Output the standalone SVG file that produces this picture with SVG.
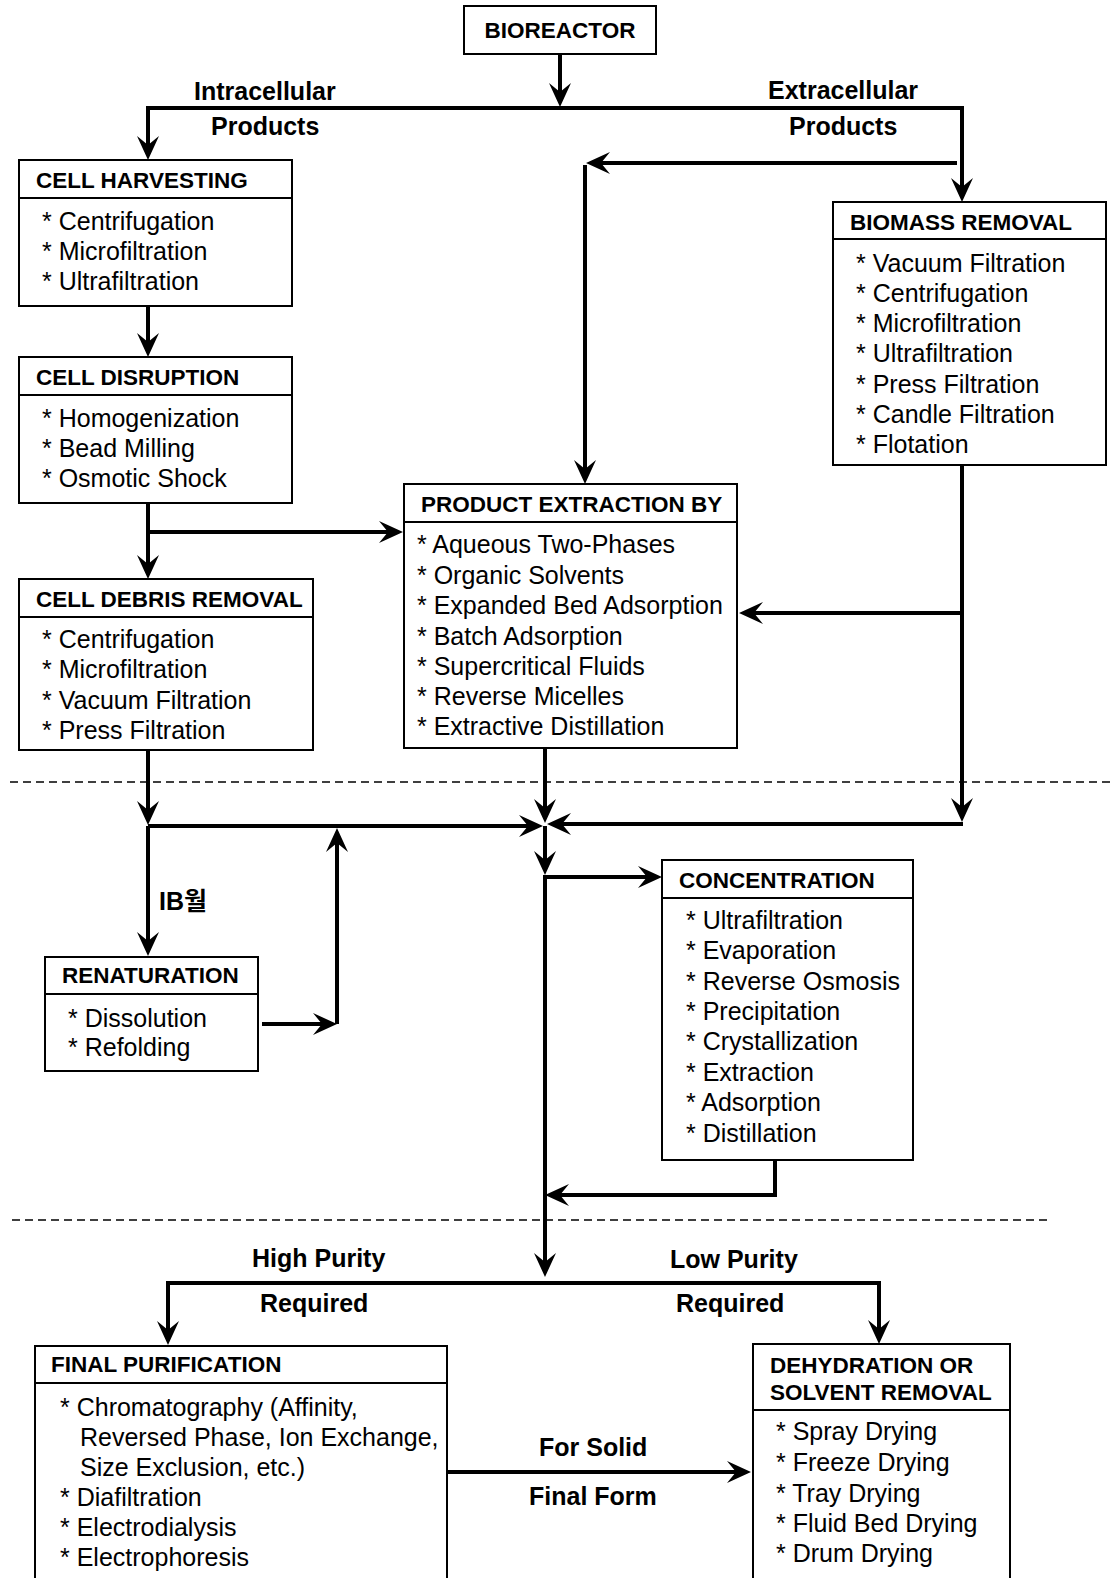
<svg xmlns="http://www.w3.org/2000/svg" width="1110" height="1578" viewBox="0 0 1110 1578">
<style>
.box{fill:#fff;stroke:#000;stroke-width:2}
.dv{stroke:#000;stroke-width:2}
.hd{font-family:"Liberation Sans",Arial,sans-serif;font-weight:bold;font-size:22.5px;fill:#000}
.tx{font-family:"Liberation Sans",Arial,sans-serif;font-size:25px;fill:#000}
.lb{font-family:"Liberation Sans","Noto Sans CJK KR",Arial,sans-serif;font-weight:bold;font-size:25px;fill:#000}
.cn path{fill:none;stroke:#000;stroke-width:4;stroke-linejoin:miter;marker-end:url(#ah)}
.cn path.nm{marker-end:none}
.dash{stroke:#000;stroke-width:1.6;stroke-dasharray:8 5;fill:none}
</style>
<defs>
<marker id="ah" markerUnits="userSpaceOnUse" markerWidth="26" markerHeight="24" viewBox="0 0 26 24" refX="14" refY="12" orient="auto">
<path d="M24,12 L0,1 L9,12 L0,23 Z" fill="#000"/>
</marker>
</defs>

<g id="separators">
<path class="dash" d="M10,782 H1110"/>
<path class="dash" d="M12,1220 H1047"/>
</g>

<g id="connectors" class="cn">
<path d="M560,54 V97"/>
<path d="M560,108 H148 V150"/>
<path d="M560,108 H962 V192"/>
<path d="M957,163 H596"/>
<path d="M585,165 V474"/>
<path d="M148,306 V347"/>
<path d="M148,503 V569"/>
<path d="M148,532 H393"/>
<path d="M962,465 V812"/>
<path d="M963,613 H749"/>
<path d="M963,824 H557"/>
<path d="M545,748 V813"/>
<path d="M148,750 V815"/>
<path d="M148,826 H533"/>
<path d="M148,826 V946"/>
<path d="M262,1024 H327"/>
<path d="M337,1024 V838"/>
<path d="M545,826 V865"/>
<path d="M545,877 H652"/>
<path d="M545,875 V1267"/>
<path d="M775,1160 V1195 H555"/>
<path d="M545,1283 H168 V1335"/>
<path d="M545,1283 H879 V1334"/>
<path d="M447,1472 H741"/>
</g>

<g id="labels">
<text class="lb" x="194" y="100">Intracellular</text>
<text class="lb" x="211" y="135">Products</text>
<text class="lb" x="768" y="99">Extracellular</text>
<text class="lb" x="789" y="135">Products</text>
<text class="lb" x="159" y="910">IB월</text>
<text class="lb" x="252" y="1267">High Purity</text>
<text class="lb" x="260" y="1312">Required</text>
<text class="lb" x="670" y="1268">Low Purity</text>
<text class="lb" x="676" y="1312">Required</text>
<text class="lb" x="539" y="1456">For Solid</text>
<text class="lb" x="529" y="1505">Final Form</text>
</g>

<g id="bioreactor">
<rect class="box" x="464" y="6" width="192" height="48"/>
<text class="hd" x="560" y="38" text-anchor="middle">BIOREACTOR</text>
</g>

<g id="cell-harvesting">
<rect class="box" x="19" y="160" width="273" height="146"/>
<line class="dv" x1="19" y1="198" x2="292" y2="198"/>
<text class="hd" x="36" y="188">CELL HARVESTING</text>
<text class="tx" x="42" y="230">* Centrifugation</text>
<text class="tx" x="42" y="260">* Microfiltration</text>
<text class="tx" x="42" y="290">* Ultrafiltration</text>
</g>

<g id="cell-disruption">
<rect class="box" x="19" y="357" width="273" height="146"/>
<line class="dv" x1="19" y1="395" x2="292" y2="395"/>
<text class="hd" x="36" y="385">CELL DISRUPTION</text>
<text class="tx" x="42" y="427">* Homogenization</text>
<text class="tx" x="42" y="457">* Bead Milling</text>
<text class="tx" x="42" y="487">* Osmotic Shock</text>
</g>

<g id="cell-debris-removal">
<rect class="box" x="19" y="579" width="294" height="171"/>
<line class="dv" x1="19" y1="617" x2="313" y2="617"/>
<text class="hd" x="36" y="607">CELL DEBRIS REMOVAL</text>
<text class="tx" x="42" y="648">* Centrifugation</text>
<text class="tx" x="42" y="678">* Microfiltration</text>
<text class="tx" x="42" y="709">* Vacuum Filtration</text>
<text class="tx" x="42" y="739">* Press Filtration</text>
</g>

<g id="renaturation">
<rect class="box" x="45" y="957" width="213" height="114"/>
<line class="dv" x1="45" y1="994" x2="258" y2="994"/>
<text class="hd" x="62" y="983">RENATURATION</text>
<text class="tx" x="68" y="1027">* Dissolution</text>
<text class="tx" x="68" y="1056">* Refolding</text>
</g>

<g id="biomass-removal">
<rect class="box" x="833" y="202" width="273" height="263"/>
<line class="dv" x1="833" y1="239" x2="1106" y2="239"/>
<text class="hd" x="850" y="230">BIOMASS REMOVAL</text>
<text class="tx" x="856" y="272">* Vacuum Filtration</text>
<text class="tx" x="856" y="302">* Centrifugation</text>
<text class="tx" x="856" y="332">* Microfiltration</text>
<text class="tx" x="856" y="362">* Ultrafiltration</text>
<text class="tx" x="856" y="393">* Press Filtration</text>
<text class="tx" x="856" y="423">* Candle Filtration</text>
<text class="tx" x="856" y="453">* Flotation</text>
</g>

<g id="product-extraction">
<rect class="box" x="404" y="484" width="333" height="264"/>
<line class="dv" x1="404" y1="522" x2="737" y2="522"/>
<text class="hd" x="421" y="512">PRODUCT EXTRACTION BY</text>
<text class="tx" x="417" y="553">* Aqueous Two-Phases</text>
<text class="tx" x="417" y="584">* Organic Solvents</text>
<text class="tx" x="417" y="614">* Expanded Bed Adsorption</text>
<text class="tx" x="417" y="645">* Batch Adsorption</text>
<text class="tx" x="417" y="675">* Supercritical Fluids</text>
<text class="tx" x="417" y="705">* Reverse Micelles</text>
<text class="tx" x="417" y="735">* Extractive Distillation</text>
</g>

<g id="concentration">
<rect class="box" x="662" y="860" width="251" height="300"/>
<line class="dv" x1="662" y1="898" x2="913" y2="898"/>
<text class="hd" x="679" y="888">CONCENTRATION</text>
<text class="tx" x="686" y="929">* Ultrafiltration</text>
<text class="tx" x="686" y="959">* Evaporation</text>
<text class="tx" x="686" y="990">* Reverse Osmosis</text>
<text class="tx" x="686" y="1020">* Precipitation</text>
<text class="tx" x="686" y="1050">* Crystallization</text>
<text class="tx" x="686" y="1081">* Extraction</text>
<text class="tx" x="686" y="1111">* Adsorption</text>
<text class="tx" x="686" y="1142">* Distillation</text>
</g>

<g id="final-purification">
<rect class="box" x="35" y="1346" width="412" height="260"/>
<line class="dv" x1="35" y1="1383" x2="447" y2="1383"/>
<text class="hd" x="51" y="1372">FINAL PURIFICATION</text>
<text class="tx" x="60" y="1416">* Chromatography (Affinity,</text>
<text class="tx" x="80" y="1446">Reversed Phase, Ion Exchange,</text>
<text class="tx" x="80" y="1476">Size Exclusion, etc.)</text>
<text class="tx" x="60" y="1506">* Diafiltration</text>
<text class="tx" x="60" y="1536">* Electrodialysis</text>
<text class="tx" x="60" y="1566">* Electrophoresis</text>
</g>

<g id="dehydration">
<rect class="box" x="753" y="1344" width="257" height="260"/>
<line class="dv" x1="753" y1="1410" x2="1010" y2="1410"/>
<text class="hd" x="770" y="1373">DEHYDRATION OR</text>
<text class="hd" x="770" y="1400">SOLVENT REMOVAL</text>
<text class="tx" x="776" y="1440">* Spray Drying</text>
<text class="tx" x="776" y="1471">* Freeze Drying</text>
<text class="tx" x="776" y="1502">* Tray Drying</text>
<text class="tx" x="776" y="1532">* Fluid Bed Drying</text>
<text class="tx" x="776" y="1562">* Drum Drying</text>
</g>
</svg>
